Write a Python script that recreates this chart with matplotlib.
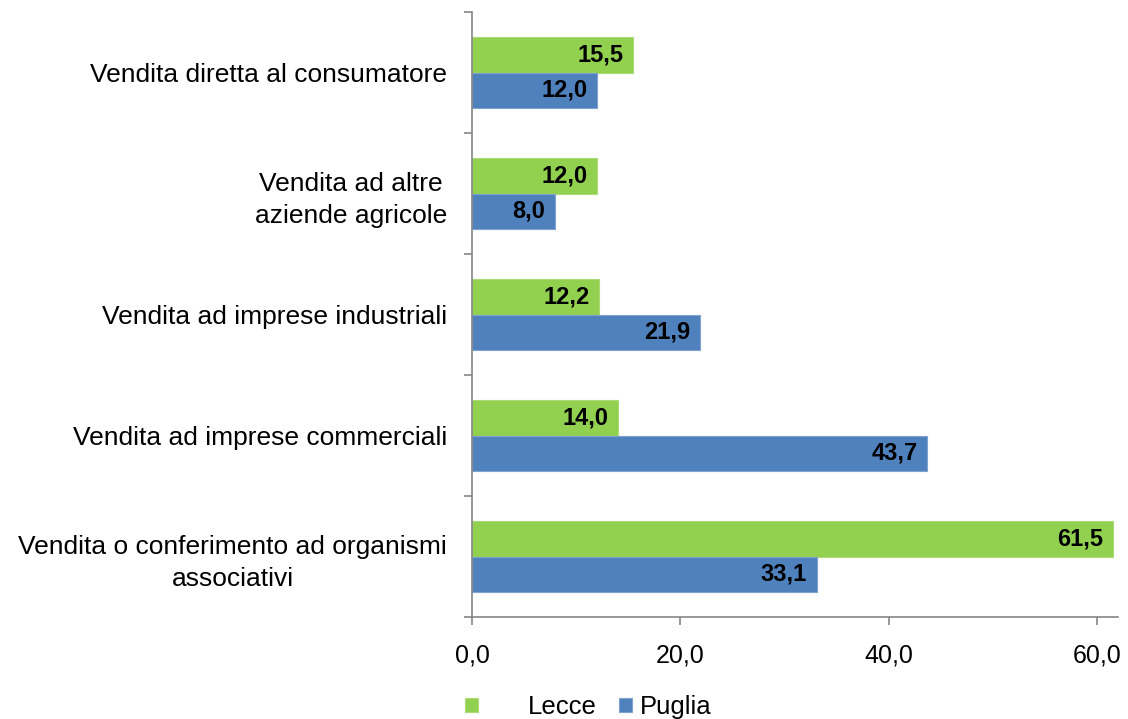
import matplotlib.pyplot as plt
import numpy as np

plt.rcParams['font.family'] = ['Liberation Sans', 'DejaVu Sans']

categories = ['Vendita diretta al consumatore',
              'Vendita ad altre\naziende agricole',
              'Vendita ad imprese industriali',
              'Vendita ad imprese commerciali',
              'Vendita o conferimento ad organismi\nassociativi']
lecce = [15.5, 12.0, 12.2, 14.0, 61.5]
puglia = [12.0, 8.0, 21.9, 43.7, 33.1]
xticks = [0, 20, 40, 60]

green = '#92D050'
blue = '#4F81BD'
axis_col = '#868686'

fig = plt.figure(figsize=(11.28, 7.19), dpi=100)
ax = fig.add_axes([0.4184, 0.1418, 0.5726, 0.8415])

y = np.arange(len(categories))
h = 0.29
b1 = ax.barh(y - h / 2, lecce, height=h, color=green, edgecolor='#A9DA74', linewidth=0.8, label='Lecce')
b2 = ax.barh(y + h / 2, puglia, height=h, color=blue, edgecolor='#7FA3D0', linewidth=0.8, label='Puglia')

for bars, vals in [(b1, lecce), (b2, puglia)]:
    for bar, v in zip(bars, vals):
        ax.annotate(f'{v:.1f}'.replace('.', ','),
                    (bar.get_width(), bar.get_y() + bar.get_height() / 2),
                    xytext=(-7, 0), textcoords='offset points',
                    ha='right', va='center', fontsize=17, fontweight='bold')

ax.set_ylim(len(categories) - 0.5, -0.5)
ax.set_xlim(0, 62)
ax.set_xticks(xticks, [f'{t:.1f}'.replace('.', ',') for t in xticks])

ax.set_yticks(np.arange(-0.5, len(categories), 1.0), [''] * (len(categories) + 1))
ax.set_yticks(y, categories, minor=True)
for lab in ax.get_yticklabels(minor=True):
    lab.set_multialignment('center')
    lab.set_linespacing(1.42)
ax.tick_params(axis='y', which='minor', length=0, pad=18, labelsize=19)
ax.tick_params(axis='y', which='major', length=6, color=axis_col, width=1.2)
ax.tick_params(axis='x', length=6, color=axis_col, width=1.2, labelsize=18, pad=13)

for s in ['top', 'right']:
    ax.spines[s].set_visible(False)
for s in ['left', 'bottom']:
    ax.spines[s].set_color(axis_col)
    ax.spines[s].set_linewidth(1.2)

leg1 = fig.legend(handles=[b1], loc='center', bbox_to_anchor=(0.471, 0.0167),
                  frameon=False, fontsize=18.5, handlelength=0.5, handleheight=0.5,
                  handletextpad=1.95, borderpad=0, borderaxespad=0)
leg2 = fig.legend(handles=[b2], loc='center', bbox_to_anchor=(0.590, 0.0167),
                  frameon=False, fontsize=18.5, handlelength=0.5, handleheight=0.5,
                  handletextpad=0.3, borderpad=0, borderaxespad=0)

fig.savefig('out.png', dpi=100)
